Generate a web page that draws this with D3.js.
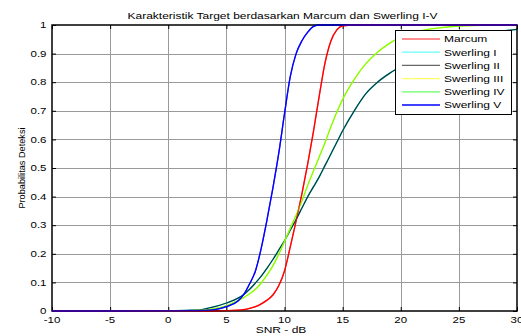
<!DOCTYPE html>
<html>
<head>
<meta charset="utf-8">
<script src="https://cdn.jsdelivr.net/npm/d3@7"></script>
<style>
  html, body { margin: 0; padding: 0; background: #fff; }
  svg { display: block; }
  text { font-family: "Liberation Sans", Arial, sans-serif; fill: #000; }
</style>
</head>
<body>
<svg id="chart" width="521" height="336"></svg>
<script>
// ---- data ----
const snr = [-10, -5, 0, 2, 3, 4, 5, 6, 6.5, 7, 7.5, 8, 8.5, 9, 9.5, 10, 10.5, 11, 11.5, 12, 12.5, 13, 13.5, 14, 14.5, 15, 16, 17, 18, 19, 20, 22, 24, 26, 28, 30];
const marcum    = [0, 0, 0, 0, 0, 0, 0.001, 0.003, 0.005, 0.009, 0.015, 0.025, 0.038, 0.056, 0.088, 0.14, 0.225, 0.315, 0.41, 0.515, 0.63, 0.755, 0.87, 0.945, 0.983, 0.997, 1, 1, 1, 1, 1, 1, 1, 1, 1, 1];
const swerling1 = [0, 0, 0.001, 0.003, 0.006, 0.015, 0.028, 0.045, 0.058, 0.076, 0.098, 0.122, 0.15, 0.18, 0.213, 0.245, 0.283, 0.32, 0.36, 0.40, 0.435, 0.47, 0.51, 0.55, 0.59, 0.63, 0.70, 0.76, 0.80, 0.83, 0.855, 0.905, 0.94, 0.962, 0.975, 0.985];
const swerling2 = [0, 0, 0.001, 0.003, 0.006, 0.015, 0.028, 0.045, 0.058, 0.076, 0.098, 0.122, 0.15, 0.18, 0.213, 0.245, 0.283, 0.32, 0.36, 0.40, 0.435, 0.47, 0.51, 0.55, 0.59, 0.63, 0.70, 0.76, 0.80, 0.83, 0.855, 0.905, 0.94, 0.962, 0.975, 0.985];
const swerling3 = [0, 0, 0, 0.001, 0.003, 0.008, 0.018, 0.036, 0.047, 0.06, 0.076, 0.098, 0.126, 0.158, 0.198, 0.243, 0.29, 0.335, 0.385, 0.44, 0.49, 0.54, 0.59, 0.645, 0.695, 0.74, 0.81, 0.865, 0.905, 0.935, 0.958, 0.982, 0.993, 0.998, 1, 1];
const swerling4 = [0, 0, 0, 0.001, 0.003, 0.008, 0.018, 0.036, 0.047, 0.06, 0.076, 0.098, 0.126, 0.158, 0.198, 0.243, 0.29, 0.335, 0.385, 0.44, 0.49, 0.54, 0.59, 0.645, 0.695, 0.74, 0.81, 0.865, 0.905, 0.935, 0.958, 0.982, 0.993, 0.998, 1, 1];
const swerling5 = [0, 0, 0.0005, 0.001, 0.002, 0.005, 0.015, 0.035, 0.058, 0.095, 0.14, 0.22, 0.32, 0.43, 0.55, 0.69, 0.82, 0.90, 0.945, 0.975, 0.995, 1, 1, 1, 1, 1, 1, 1, 1, 1, 1, 1, 1, 1, 1, 1];

const seriesNames = ["Marcum", "Swerling I", "Swerling II", "Swerling III", "Swerling IV", "Swerling V"];
const seriesValues = [marcum, swerling1, swerling2, swerling3, swerling4, swerling5];
const seriesColors = ["#ff0000", "#00ffff", "#000000", "#ffff00", "#00ff00", "#0000ff"];
const seriesOpacity = [1, 1, 0.75, 1, 0.5, 1];

const xTicks = [-10, -5, 0, 5, 10, 15, 20, 25, 30];
const yTicks = [0, 0.1, 0.2, 0.3, 0.4, 0.5, 0.6, 0.7, 0.8, 0.9, 1];
const yTickLabels = ["0", "0.1", "0.2", "0.3", "0.4", "0.5", "0.6", "0.7", "0.8", "0.9", "1"];

const titleText = "Karakteristik Target berdasarkan Marcum dan Swerling I-V";
const xLabelText = "SNR - dB";
const yLabelText = "Probabilitas Deteksi";

// ---- layout ----
const L = 52, R = 517, T = 25, B = 311;
const svg = d3.select("#chart");
const x = d3.scaleLinear().domain([-10, 30]).range([L, R]);
const y = d3.scaleLinear().domain([0, 1]).range([B, T]);

// text helper: horizontally wide glyphs (reference is squashed vertically)
function sText(g, tx, ty, str, size, sy, anchor) {
  return g.append("text")
    .attr("transform", `translate(${tx},${ty}) scale(1,${sy})`)
    .attr("font-size", size)
    .attr("text-anchor", anchor)
    .text(str);
}

// background
svg.append("rect").attr("width", 521).attr("height", 336).attr("fill", "#fff");
svg.append("rect").attr("x", L).attr("y", T).attr("width", R - L).attr("height", B - T).attr("fill", "#fff");

// grid
const grid = svg.append("g").attr("stroke", "#9a9a9a").attr("stroke-width", 1);
grid.selectAll(".gx").data(xTicks.slice(1, -1)).join("line")
  .attr("x1", d => Math.round(x(d)) + 0.5).attr("x2", d => Math.round(x(d)) + 0.5)
  .attr("y1", T).attr("y2", B);
grid.selectAll(".gy").data(yTicks.slice(1, -1)).join("line")
  .attr("y1", d => Math.round(y(d)) + 0.5).attr("y2", d => Math.round(y(d)) + 0.5)
  .attr("x1", L).attr("x2", R);

// axes with inward ticks (d3 axes, labels styled afterwards)
const tickLen = 4;
const axB = svg.append("g").attr("transform", `translate(0,${B})`)
  .call(d3.axisBottom(x).tickValues(xTicks).tickSizeInner(-tickLen).tickSizeOuter(0).tickFormat(""));
const axT = svg.append("g").attr("transform", `translate(0,${T})`)
  .call(d3.axisTop(x).tickValues(xTicks).tickSizeInner(-tickLen).tickSizeOuter(0).tickFormat(""));
const axL = svg.append("g").attr("transform", `translate(${L},0)`)
  .call(d3.axisLeft(y).tickValues(yTicks).tickSizeInner(-tickLen).tickSizeOuter(0).tickFormat(""));
const axRt = svg.append("g").attr("transform", `translate(${R},0)`)
  .call(d3.axisRight(y).tickValues(yTicks).tickSizeInner(-tickLen).tickSizeOuter(0).tickFormat(""));
[axB, axT, axL, axRt].forEach(a => {
  a.select(".domain").remove();
  a.selectAll(".tick line").attr("stroke", "#000").attr("stroke-width", 1);
});

// tick labels
const labG = svg.append("g");
xTicks.forEach(v => sText(labG, x(v), 322.5, String(v), 11.5, 0.75, "middle"));
yTicks.forEach((v, i) => sText(labG, 46.5, y(v) + 3.2, yTickLabels[i], 11.5, 0.75, "end"));

// lines
const line = d3.line().x((d, i) => x(snr[i])).y(d => y(d)).curve(d3.curveMonotoneX);
const linesG = svg.append("g").attr("fill", "none");
seriesValues.forEach((vals, k) => {
  linesG.append("path")
    .attr("d", line(vals))
    .attr("stroke", seriesColors[k])
    .attr("stroke-opacity", seriesOpacity[k])
    .attr("stroke-width", 1.3);
});

// frame
svg.append("rect").attr("x", L).attr("y", T).attr("width", R - L).attr("height", B - T)
  .attr("fill", "none").attr("stroke", "#000").attr("stroke-width", 1.5);
// redraw the curve tops over the top frame like the reference
svg.append("g").attr("fill", "none")
  .selectAll("path").data([0, 5]).join("path")
  .attr("d", k => line(seriesValues[k]))
  .attr("stroke", k => seriesColors[k])
  .attr("stroke-width", 1.3)
  .attr("stroke-opacity", k => k === 5 ? 0.7 : 0.6);

// title and axis labels
sText(svg, 282.5, 18.5, titleText, 12, 0.77, "middle");
sText(svg, 281, 333, xLabelText, 12, 0.75, "middle");
svg.append("text")
  .attr("transform", "translate(25,168) rotate(-90)")
  .attr("font-size", 9.2).attr("text-anchor", "middle")
  .text(yLabelText);

// legend
const lg = svg.append("g");
lg.append("rect").attr("x", 395.5).attr("y", 30.5).attr("width", 116).attr("height", 84)
  .attr("fill", "#fff").attr("stroke", "#000").attr("stroke-width", 1);
seriesNames.forEach((name, k) => {
  const yy = 39 + k * 13.2;
  lg.append("line").attr("x1", 402).attr("x2", 440).attr("y1", yy).attr("y2", yy)
    .attr("stroke", seriesColors[k]).attr("stroke-width", 1.3)
    .attr("stroke-opacity", k === 5 ? 1 : 0.6);
  sText(lg, 444, yy + 3.3, name, 12, 0.75, "start");
});
</script>
</body>
</html>
